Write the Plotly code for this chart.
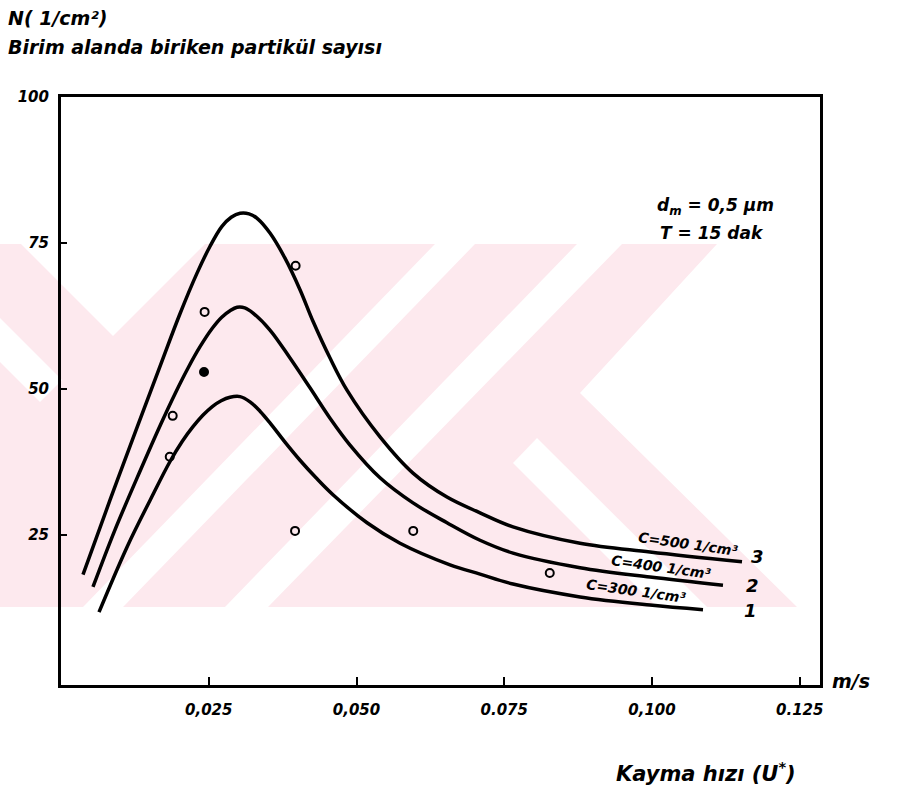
import plotly.graph_objects as go

# ---------------- data ----------------
# Curve 3: C = 500 1/cm3
x_c500 = [0.00372, 0.0083, 0.0129, 0.0168, 0.0201, 0.0230, 0.0252, 0.0272,
          0.0288, 0.0303, 0.03181, 0.03333, 0.03536, 0.03790, 0.04044, 0.04264,
          0.04552, 0.04839, 0.05398, 0.05956, 0.06531, 0.07090, 0.07648, 0.08782,
          0.09966, 0.11523]
y_c500 = [18.2, 31.0, 43.5, 54.0, 62.8, 69.8, 74.4, 77.8,
          79.4, 80.1, 80.0, 79.1, 76.7, 72.4, 67.0, 61.6,
          55.3, 49.8, 41.8, 35.6, 31.5, 28.8, 26.4, 23.6,
          22.1, 20.4]

# Curve 2: C = 400 1/cm3
x_c400 = [0.00541, 0.0091, 0.0134, 0.0168, 0.0193, 0.0215, 0.0235, 0.0256,
          0.0272, 0.0286, 0.0298, 0.0311, 0.0325, 0.03536, 0.03875, 0.04213,
          0.04552, 0.04890, 0.05398, 0.05956, 0.06531, 0.07090, 0.07648, 0.08782,
          0.09966, 0.11201]
y_c400 = [16.1, 25.8, 36.0, 43.8, 49.2, 53.6, 57.2, 60.4,
          62.3, 63.4, 64.0, 63.9, 63.0, 60.1, 55.3, 50.2,
          45.0, 40.4, 34.8, 30.5, 27.1, 24.1, 21.9, 19.4,
          17.8, 16.4]

# Curve 1: C = 300 1/cm3
x_c300 = [0.00643, 0.0112, 0.0151, 0.0184, 0.0205, 0.0223, 0.0240, 0.0256,
          0.0271, 0.0286, 0.0303, 0.03198, 0.03367, 0.03536, 0.03790, 0.04044,
          0.04315, 0.04602, 0.05178, 0.05736, 0.06582, 0.07090, 0.07648, 0.08782,
          0.09966, 0.10863]
y_c300 = [11.8, 23.0, 31.0, 37.5, 41.0, 43.5, 45.5, 47.0,
          48.0, 48.6, 48.7, 47.8, 46.2, 44.2, 40.9, 37.8,
          34.8, 31.9, 27.1, 23.6, 19.9, 18.3, 16.6, 14.4,
          13.0, 12.2]

# measured points
x_pts = [0.0397, 0.0243, 0.0242, 0.0189, 0.0184, 0.0396, 0.0596, 0.0827]
y_pts = [71.1, 63.2, 52.9, 45.4, 38.4, 25.7, 25.7, 18.5]
pt_symbols = ["circle-open", "circle-open", "circle", "circle-open", "circle-open",
              "circle-open", "circle-open", "circle-open"]

x_tickvals = [0.025, 0.050, 0.075, 0.100, 0.125]
x_ticktext = ["0,025", "0,050", "0.075", "0,100", "0.125"]
y_tickvals = [25, 50, 75, 100]
y_ticktext = ["25", "50", "75", "100"]

curve_labels = ["C=500 1/cm³", "C=400 1/cm³", "C=300 1/cm³"]
curve_numbers = ["3", "2", "1"]

# ---------------- layout helpers ----------------
W, H = 898, 801
L, R, T, B = 61, 820, 97, 685
FONT = "DejaVu Sans"


def px(xp):
    return (xp - L) / (R - L)


def py(yp):
    return (B - yp) / (B - T)


fig = go.Figure()

line_style = dict(color="black", width=3.5, shape="spline", smoothing=1.0)
for xs, ys, nm in [(x_c500, y_c500, curve_labels[0]),
                   (x_c400, y_c400, curve_labels[1]),
                   (x_c300, y_c300, curve_labels[2])]:
    fig.add_trace(go.Scatter(x=xs, y=ys, mode="lines", line=line_style,
                             name=nm, showlegend=False, hoverinfo="skip"))

fig.add_trace(go.Scatter(x=x_pts, y=y_pts, mode="markers", showlegend=False,
                         marker=dict(symbol=pt_symbols, size=8, color="black",
                                     line=dict(color="black", width=2))))

# ---------------- watermark (pale pink, behind everything) ----------------
pink = "#fde9ee"
shapes = []


def poly(points, color):
    path = "M " + " L ".join(f"{px(a):.5f},{py(b):.5f}" for a, b in points) + " Z"
    return dict(type="path", path=path, xref="paper", yref="paper",
                fillcolor=color, line=dict(width=0), layer="below")


shapes.append(poly([(0, 244), (717, 244), (580, 393), (797, 607), (0, 607)], pink))
shapes.append(poly([(435, 244), (475, 244), (123, 607), (83, 607)], "white"))
shapes.append(poly([(577, 244), (622, 244), (268, 607), (225, 607)], "white"))
shapes.append(poly([(513, 463), (537, 438), (707, 607), (657, 607)], "white"))
shapes.append(poly([(21, 244), (113, 336), (205, 244)], "white"))
shapes.append(poly([(0, 318), (62, 380), (40, 402), (0, 362)], "white"))

# ---------------- annotations ----------------
bi = dict(family=FONT, color="black", weight="bold", style="italic")
ann = []


def text(s, x, y, size, xanchor="left", angle=0):
    ann.append(dict(text=s, x=px(x), y=py(y), xref="paper", yref="paper",
                    xanchor=xanchor, yanchor="middle", showarrow=False,
                    textangle=angle, font=dict(size=size, **bi)))


text("N( 1/cm²)", 6, 18, 19)
text("Birim alanda biriken partikül sayısı", 6, 47, 19)
text("d<sub>m</sub> = 0,5 μm", 776, 206, 17, xanchor="right")
text("T = 15 dak", 766, 233, 17, xanchor="right")
text(curve_labels[0], 688, 544, 14, xanchor="center", angle=8)
text(curve_labels[1], 661, 567, 14, xanchor="center", angle=8)
text(curve_labels[2], 636, 591, 14, xanchor="center", angle=8)
text(curve_numbers[0], 757, 556, 18, xanchor="center")
text(curve_numbers[1], 752, 585, 18, xanchor="center")
text(curve_numbers[2], 750, 610, 18, xanchor="center")
text("m/s", 851, 681, 19, xanchor="center")
text("Kayma hızı (U<sup>*</sup>)", 706, 772, 21, xanchor="center")

fig.update_layout(
    width=W, height=H,
    margin=dict(l=L, r=W - R, t=T, b=H - B),
    paper_bgcolor="white", plot_bgcolor="rgba(0,0,0,0)",
    shapes=shapes, annotations=ann,
    showlegend=False,
)

fig.update_xaxes(range=[0, (R - L) / 5910], showgrid=False, zeroline=False,
                 showline=True, linecolor="black", linewidth=3, mirror=True,
                 ticks="inside", ticklen=8, tickwidth=2, tickcolor="black",
                 tickvals=x_tickvals, ticktext=x_ticktext,
                 tickfont=dict(size=15, **bi), ticklabelstandoff=9)
fig.update_yaxes(range=[(681 - B) / 5.84, 100], showgrid=False, zeroline=False,
                 showline=True, linecolor="black", linewidth=3, mirror=True,
                 ticks="inside", ticklen=6, tickwidth=2, tickcolor="black",
                 tickvals=y_tickvals, ticktext=y_ticktext,
                 tickfont=dict(size=15, **bi), ticklabelstandoff=6)

fig.write_html("out.html")
